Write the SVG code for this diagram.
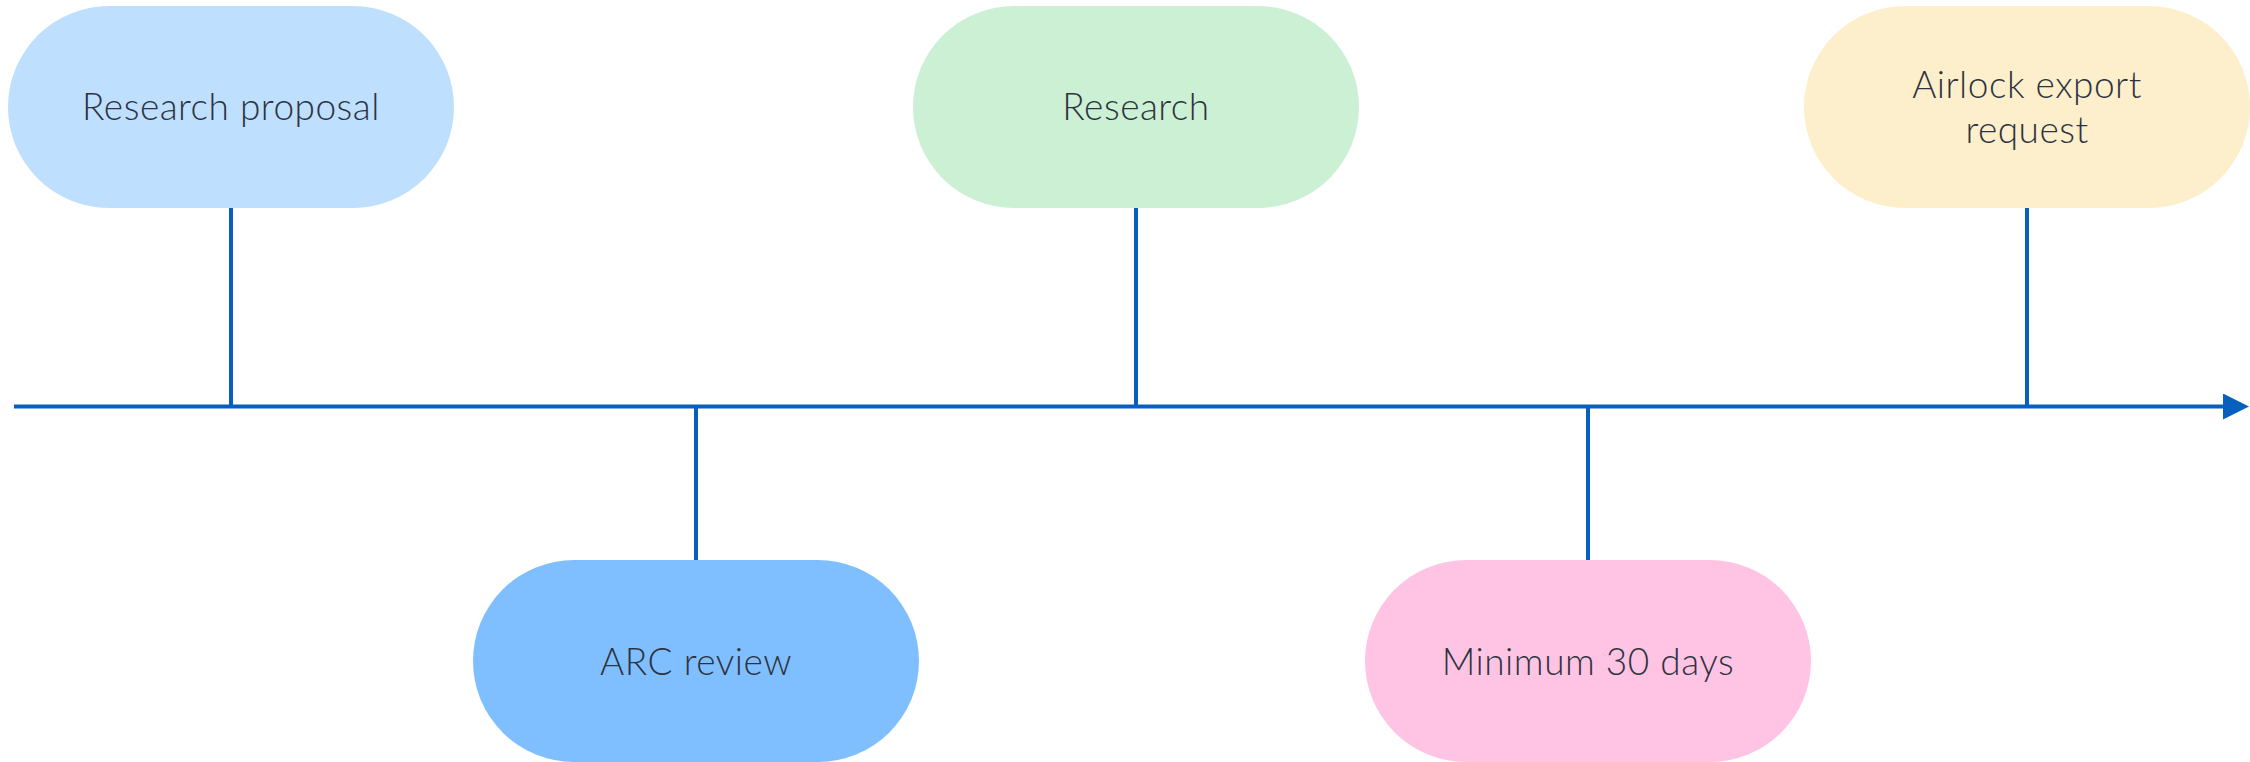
<svg xmlns="http://www.w3.org/2000/svg" width="2250" height="762" viewBox="0 0 2250 762">
<style>
.lbl{font-family:Lato,"Noto Sans","Liberation Sans",sans-serif;font-size:37px;font-weight:300;letter-spacing:0.5px;fill:#2e3340;text-anchor:middle}
.ln{stroke:#0860BE;stroke-width:4;fill:none}
</style>
<defs>
<marker id="arr" markerUnits="userSpaceOnUse" markerWidth="26" markerHeight="26" refX="0" refY="13" orient="auto" viewBox="0 0 26 26">
<path d="M0,0 L26,13 L0,26 Z" fill="#0860BE"/>
</marker>
</defs>
<rect width="2250" height="762" fill="#ffffff"/>
<g id="connectors">
<line class="ln" x1="14" y1="406.5" x2="2223" y2="406.5" marker-end="url(#arr)"/>
<line class="ln" x1="231" y1="208" x2="231" y2="406"/>
<line class="ln" x1="696" y1="406" x2="696" y2="560"/>
<line class="ln" x1="1136" y1="208" x2="1136" y2="406"/>
<line class="ln" x1="1588" y1="406" x2="1588" y2="560"/>
<line class="ln" x1="2027" y1="208" x2="2027" y2="406"/>
</g>
<g id="n-proposal">
<rect x="8" y="6" width="446" height="202" rx="101" fill="#BFDFFF"/>
<text class="lbl" x="231" y="120">Research proposal</text>
</g>
<g id="n-research">
<rect x="913" y="6" width="446" height="202" rx="101" fill="#CCF0D4"/>
<text class="lbl" x="1136" y="120">Research</text>
</g>
<g id="n-airlock">
<rect x="1804" y="6" width="446" height="202" rx="101" fill="#FDEFCB"/>
<text class="lbl" x="2027" y="98">Airlock export</text>
<text class="lbl" x="2027" y="143">request</text>
</g>
<g id="n-arc">
<rect x="473" y="560" width="446" height="202" rx="101" fill="#80BFFF"/>
<text class="lbl" x="696" y="675">ARC review</text>
</g>
<g id="n-min">
<rect x="1365" y="560" width="446" height="202" rx="101" fill="#FFC4E4"/>
<text class="lbl" x="1588" y="675">Minimum 30 days</text>
</g>
</svg>
